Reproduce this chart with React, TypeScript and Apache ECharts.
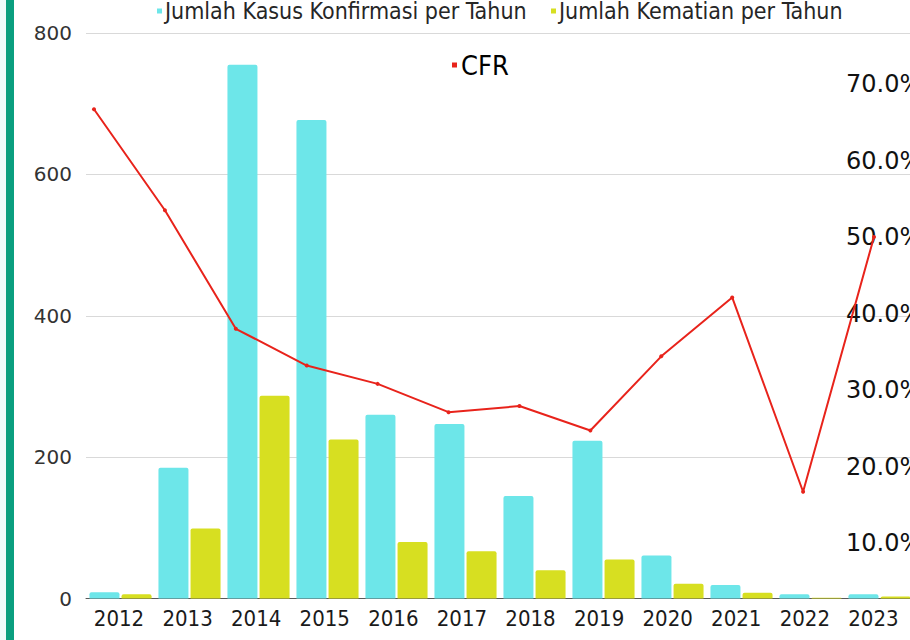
import React, { useEffect, useRef } from "react";
import * as echarts from "echarts";

const years = ["2012", "2013", "2014", "2015", "2016", "2017", "2018", "2019", "2020", "2021", "2022", "2023"];
const cases = [9, 185, 755, 677, 260, 247, 145, 223, 61, 19, 6, 6];
const deaths = [6, 99, 287, 225, 80, 67, 40, 55, 21, 8, 1, 3];
const cfr = [66.7, 53.5, 38.0, 33.2, 30.8, 27.1, 27.9, 24.7, 34.4, 42.1, 16.7, 50.0];

const NARROW = "'Liberation Sans Narrow', 'DejaVu Sans Condensed', 'Roboto', sans-serif";
const WIDE = "'DejaVu Sans', sans-serif";

export default function App() {
  const ref = useRef<HTMLDivElement>(null);
  useEffect(() => {
    if (!ref.current) return;
    const chart = echarts.init(ref.current, null, { renderer: "svg" });
    chart.setOption({
      animation: false,
      backgroundColor: "#ffffff",
      graphic: [
        { type: "rect", shape: { x: 0, y: 0, width: 6, height: 640 }, style: { fill: "#eefbfb" }, z: 100 },
        { type: "rect", shape: { x: 6, y: 0, width: 8, height: 640 }, style: { fill: "#0a9f7f" }, z: 100 },
      ],
      legend: [
        {
          data: ["Jumlah Kasus Konfirmasi per Tahun"],
          left: 157, top: -0.5, padding: 0, icon: "rect", itemWidth: 5, itemHeight: 5,
          textStyle: { fontSize: 23, fontFamily: NARROW, color: "#262626", padding: [0, 0, 0, -2] },
        },
        {
          data: ["Jumlah Kematian per Tahun"],
          left: 551, top: -0.5, padding: 0, icon: "rect", itemWidth: 5, itemHeight: 5,
          textStyle: { fontSize: 23, fontFamily: NARROW, color: "#262626", padding: [0, 0, 0, -2] },
        },
        {
          data: ["CFR"],
          left: 452, top: 51.5, padding: 0, icon: "rect", itemWidth: 5, itemHeight: 5,
          textStyle: { fontSize: 27, fontFamily: NARROW, color: "#000000", padding: [0, 0, 0, -1] },
        },
      ],
      grid: [
        { left: 86, width: 828, top: 33, bottom: 41.5, outerBoundsMode: "none" },
        { left: 94, width: 780, top: 7.5, bottom: 20.5, outerBoundsMode: "none" },
        { left: 84.7, width: 823, top: 33, bottom: 41.5, outerBoundsMode: "none" },
      ],
      xAxis: [
        {
          type: "category", gridIndex: 0, data: years,
          axisLabel: { show: false }, axisTick: { show: false },
          axisLine: { lineStyle: { color: "#595959", width: 1 } },
        },
        {
          type: "category", gridIndex: 1, data: years, boundaryGap: false, show: false,
        },
        {
          type: "category", gridIndex: 2, data: years,
          axisLine: { show: false }, axisTick: { show: false },
          axisLabel: { margin: 9, fontSize: 22, fontFamily: NARROW, color: "#1a1a1a", interval: 0 },
        },
      ],
      yAxis: [
        {
          type: "value", gridIndex: 0, min: 0, max: 800, interval: 200,
          axisLine: { show: false }, axisTick: { show: false },
          axisLabel: { margin: 14, fontSize: 20, fontFamily: WIDE, color: "#333333" },
          splitLine: { lineStyle: { color: "#d9d9d9", width: 1 } },
        },
        {
          type: "value", gridIndex: 1, min: 0, max: 80, interval: 10, position: "right", offset: -28,
          axisLine: { show: false }, axisTick: { show: false }, splitLine: { show: false },
          axisLabel: {
            margin: 0, fontSize: 24, fontFamily: WIDE, color: "#111111",
            formatter: (v: number) => (v <= 0 || v >= 80 ? "" : v.toFixed(1) + "%"),
          },
        },
        { type: "value", gridIndex: 2, show: false, min: 0, max: 800 },
      ],
      series: [
        {
          name: "Jumlah Kasus Konfirmasi per Tahun", type: "bar", xAxisIndex: 0, yAxisIndex: 0,
          data: cases, barWidth: 30, barGap: "7%",
          itemStyle: { color: "#6de6e9", borderRadius: [2, 2, 0, 0] },
        },
        {
          name: "Jumlah Kematian per Tahun", type: "bar", xAxisIndex: 0, yAxisIndex: 0,
          data: deaths, barWidth: 30, barGap: "7%",
          itemStyle: { color: "#d7df21", borderRadius: [2, 2, 0, 0] },
        },
        {
          name: "CFR", type: "line", xAxisIndex: 1, yAxisIndex: 1, data: cfr, z: 5,
          symbol: "circle", symbolSize: 4,
          lineStyle: { color: "#e8231b", width: 2 },
          itemStyle: { color: "#e8231b" },
        },
      ],
    });
    return () => chart.dispose();
  }, []);
  return <div ref={ref} style={{ position: "absolute", left: 0, top: 0, width: 910, height: 640 }} />;
}
